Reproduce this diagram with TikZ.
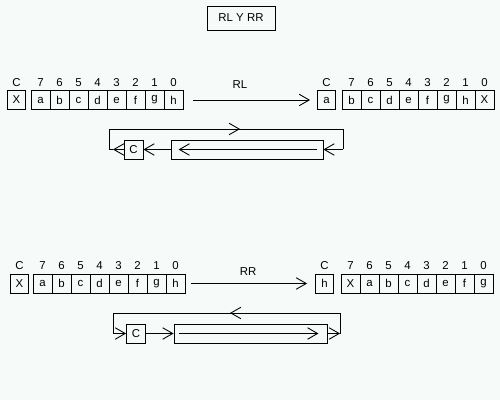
\documentclass[tikz,border=0pt]{standalone}
\usepackage{fontspec}
\setmainfont{Liberation Sans}
\usetikzlibrary{arrows.meta}
\definecolor{paper}{RGB}{246,251,249}
\tikzset{
  bit/.style={draw, minimum width=0.38cm, minimum height=0.38cm, inner sep=0pt},
  carry/.style={draw, minimum width=0.36cm, minimum height=0.38cm, inner sep=0pt},
  reg/.style={draw, minimum height=0.38cm, inner sep=0pt},
  arr/.style={-{Straight Barb[length=2mm,width=2.3mm]}},
}

\begin{document}
\begin{tikzpicture}[font=\fontsize{6.5}{8}\selectfont, line width=0.5pt]
\fill[paper] (0,0) rectangle (10,8);
\useasboundingbox (0,0) rectangle (10,8);
\node[draw, minimum width=1.36cm, minimum height=0.48cm] (title) at (4.82,7.64) {RL Y RR};

% RL
\node[carry] (tlc) at (0.33,6) {X};
\node (tlcn) at (0.33,6.34) {C};
\foreach \b/\n [count=\i from 0] in {a/7,b/6,c/5,d/4,e/3,f/2,g/1,h/0}
{\node[bit] (tl\i) at ({0.81+0.38*\i},6) {\b};
 \node (tln\i) at ({0.81+0.38*\i},6.34) {\n};}
\node[carry] (trc) at (6.53,6) {a};
\node (trcn) at (6.53,6.34) {C};
\foreach \b/\n [count=\i from 0] in {b/7,c/6,d/5,e/4,f/3,g/2,h/1,X/0}
{\node[bit] (tr\i) at ({7.03+0.38*\i},6) {\b};
 \node (trn\i) at ({7.03+0.38*\i},6.34) {\n};}
\draw[arr, shorten <=0.2cm, shorten >=0.14cm] (tl7.east) -- (trc.west);
\node (rl) at (4.8,6.3) {RL};

\node[bit] (tc) at (2.67,5.01) {C};
\node[reg, minimum width=3.04cm] (treg) at (4.94,5.01) {};
\coordinate (tkt) at (2.26,5.01);
\coordinate (tk1) at (2.18,5.01);
\coordinate (tk2) at (2.18,5.42);
\coordinate (tkm) at (4.8,5.42);
\coordinate (tk3) at (6.86,5.42);
\coordinate (tk4) at (6.86,5.01);
\draw[arr] (treg.west) -- (tc.east);
\draw[arr] (tc.west) -- (tkt);
\draw (tkt) -- (tk1) -- (tk2) -- (tk3) -- (tk4);
\draw[arr] (tk2) -- (tkm);
\draw[arr] (tk4) -- (treg.east);
\draw[arr] ([xshift=-0.12cm]treg.east) -- ([xshift=0.16cm]treg.west);

% RR
\node[carry] (blc) at (0.39,2.33) {X};
\node (blcn) at (0.39,2.68) {C};
\foreach \b/\n [count=\i from 0] in {a/7,b/6,c/5,d/4,e/3,f/2,g/1,h/0}
{\node[bit] (bl\i) at ({0.85+0.38*\i},2.33) {\b};
 \node (bln\i) at ({0.85+0.38*\i},2.68) {\n};}
\node[carry] (brc) at (6.49,2.33) {h};
\node (brcn) at (6.49,2.68) {C};
\foreach \b/\n [count=\i from 0] in {X/7,a/6,b/5,c/4,d/3,e/2,f/1,g/0}
{\node[bit] (br\i) at ({7.01+0.38*\i},2.33) {\b};
 \node (brn\i) at ({7.01+0.38*\i},2.68) {\n};}
\draw[arr, shorten <=0.12cm, shorten >=0.16cm] (bl7.east) -- (brc.west);
\node (rr) at (4.96,2.56) {RR};

\node[bit] (bc) at (2.72,1.33) {C};
\node[reg, minimum width=3.06cm] (breg) at (5.01,1.33) {};
\coordinate (bk1) at (2.26,1.33);
\coordinate (bk2) at (2.26,1.74);
\coordinate (bkm) at (4.6,1.74);
\coordinate (bk3) at (6.8,1.74);
\coordinate (bk4) at (6.8,1.33);
\draw[arr] (bc.east) -- (breg.west);
\draw[arr] (breg.east) -- (bk4);
\draw (bk4) -- (bk3) -- (bk2) -- (bk1);
\draw[arr] (bk3) -- (bkm);
\draw[arr] (bk1) -- (bc.west);
\draw[arr] ([xshift=0.1cm]breg.west) -- ([xshift=-0.18cm]breg.east);
\end{tikzpicture}
\end{document}
